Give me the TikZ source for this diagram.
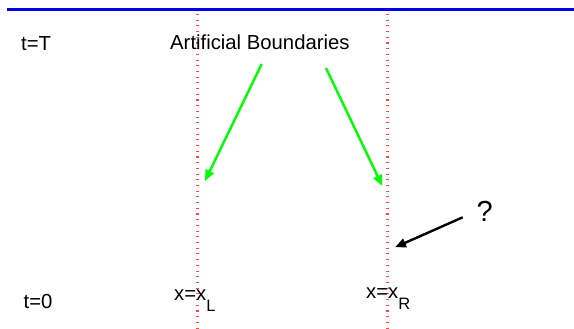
\documentclass[tikz,border=0pt]{standalone}
\usepackage{fontspec}
\setmainfont{Liberation Sans}
\usetikzlibrary{arrows.meta}
\definecolor{bndred}{RGB}{255,70,70}
\definecolor{topblue}{RGB}{0,0,230}
\definecolor{brightgreen}{RGB}{0,255,0}
\begin{document}
\begin{tikzpicture}[x=1pt,y=-1pt,
  lbl/.style={anchor=base west,inner sep=0pt,font=\fontsize{20.3}{24}\selectfont},
  bound/.style={draw=bndred,line width=2.4pt,dash pattern=on 1.1pt off 4.6pt},
  garrow/.style={draw=brightgreen,fill=brightgreen,line width=2.4pt,-{Triangle[length=11pt,width=9pt]}},
  karrow/.style={draw=black,line width=2.4pt,-{Triangle[length=11pt,width=9pt]}}]
\useasboundingbox (0,0) rectangle (574,329);
\fill[white] (0,0) rectangle (574,329);
% top blue line
\coordinate (bl) at (7,9.3);
\coordinate (br) at (574,9.3);
\draw[topblue,line width=2.7pt] (bl) -- (br);
% boundaries
\coordinate (lt) at (197.3,14);
\coordinate (lb) at (197.3,329);
\coordinate (rt) at (387.3,14);
\coordinate (rb) at (387.3,329);
\draw[bound] (lt) -- (lb);
\draw[bound] (rt) -- (rb);
% labels
\node[lbl] (tT) at (21,50.5) {t=T};
\node[lbl] (ab) at (170,50) {Artificial Boundaries};
\node[lbl] (t0) at (23.5,308) {t=0};
\node[lbl] (xL) at (174,300.7) {x=x\raisebox{-11pt}{\fontsize{16.5}{18}\selectfont L}};
\node[lbl] (xR) at (366,298.3) {x=x\raisebox{-10.7pt}{\fontsize{16.5}{18}\selectfont R}};
\node[anchor=base west,inner sep=0pt,font=\fontsize{29}{32}\selectfont] (q) at (476.5,221.7) {?};
% arrows
\coordinate (g1s) at (261.7,64);
\coordinate (g1e) at (205,181);
\coordinate (g2s) at (326,68);
\coordinate (g2e) at (382.3,186);
\coordinate (ks) at (462.7,217.3);
\coordinate (ke) at (395,247.3);
\draw[garrow] (g1s) -- (g1e);
\draw[garrow] (g2s) -- (g2e);
\draw[karrow] (ks) -- (ke);
\end{tikzpicture}
\end{document}
